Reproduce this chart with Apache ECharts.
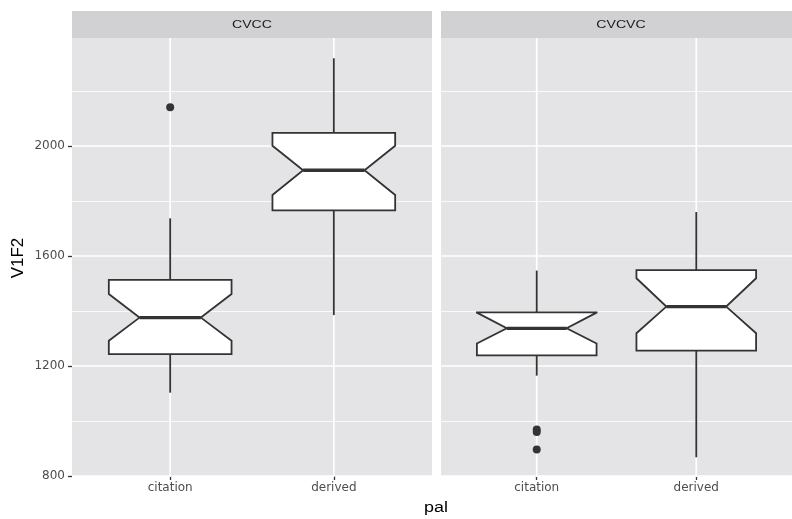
<!DOCTYPE html>
<html>
<head>
<meta charset="utf-8">
<script src="https://cdn.jsdelivr.net/npm/echarts@6/dist/echarts.min.js"></script>
<style>
  html, body { margin: 0; padding: 0; background: #fff; }
  #chart { width: 792px; height: 519px; }
</style>
</head>
<body>
<div id="chart"></div>
<script>
// Facets and categories
const facets = ['CVCC', 'CVCVC'];
const categories = ['citation', 'derived'];
const yTicks = [800, 1200, 1600, 2000];

// Box statistics per facet: [lowerWhisker, Q1, notchLow, median, notchHigh, Q3, upperWhisker]
const cvccCitation = [1103, 1243, 1292, 1376, 1462, 1513, 1737];
const cvccDerived  = [1385, 1766, 1822, 1912, 2001, 2048, 2319];
const cvcvcCitation = [1165, 1239, 1282, 1337, 1394, 1395, 1547];
const cvcvcDerived  = [868, 1256, 1319, 1416, 1519, 1549, 1760];

// Outliers: [category index (1-based), value]
const cvccOutliers = [[1, 2141]];
const cvcvcOutliers = [[1, 969], [1, 960], [1, 896]];

const boxStats = [
  [cvccCitation, cvccDerived],
  [cvcvcCitation, cvcvcDerived]
];
const outliers = [cvccOutliers, cvcvcOutliers];

const FONT = '"Liberation Sans", Arial, Helvetica, sans-serif';
const TICK_FONT = '"DejaVu Sans", "Liberation Sans", sans-serif';
const INK = '#333333';
const PANEL = '#E4E4E6';
const STRIP = '#D1D1D3';
const BOX_HALF = 0.375;
const NOTCH_HALF = 0.1875;

function renderNotchedBox(params, api) {
  const x = api.value(0);
  const lo = api.value(1), q1 = api.value(2), nLo = api.value(3), med = api.value(4),
        nHi = api.value(5), q3 = api.value(6), hi = api.value(7);
  const P = (xv, yv) => api.coord([xv, yv]);
  const xmin = x - BOX_HALF, xmax = x + BOX_HALF;
  const nxmin = x - NOTCH_HALF, nxmax = x + NOTCH_HALF;
  const top = P(x, 2400), bottom = P(x, 800);
  const pts = [
    P(xmin, q3), P(xmin, nHi), P(nxmin, med), P(xmin, nLo), P(xmin, q1),
    P(xmax, q1), P(xmax, nLo), P(nxmax, med), P(xmax, nHi), P(xmax, q3)
  ];
  return {
    type: 'group',
    children: [
      // vertical major grid line at the category
      { type: 'line', shape: { x1: top[0], y1: top[1], x2: bottom[0], y2: bottom[1] + 1 },
        style: { stroke: '#ffffff', lineWidth: 1.7 } },
      // whiskers
      { type: 'line', shape: { x1: P(x, q3)[0], y1: P(x, q3)[1], x2: P(x, hi)[0], y2: P(x, hi)[1] },
        style: { stroke: INK, lineWidth: 1.8 } },
      { type: 'line', shape: { x1: P(x, q1)[0], y1: P(x, q1)[1], x2: P(x, lo)[0], y2: P(x, lo)[1] },
        style: { stroke: INK, lineWidth: 1.8 } },
      // notched box
      { type: 'polygon', shape: { points: pts },
        style: { fill: '#ffffff', stroke: INK, lineWidth: 1.8, lineJoin: 'miter' } },
      // median
      { type: 'line', shape: { x1: P(nxmin, med)[0], y1: P(nxmin, med)[1], x2: P(nxmax, med)[0], y2: P(nxmax, med)[1] },
        style: { stroke: INK, lineWidth: 3.4 } }
    ]
  };
}

const grids = [
  { left: 72, top: 36, width: 360, height: 440 },
  { left: 441, top: 36, width: 360, height: 440 }
].map(g => Object.assign(g, { show: true, backgroundColor: PANEL, borderWidth: 0, containLabel: false }));

const xAxes = facets.map((f, i) => ({
  type: 'value', gridIndex: i, min: 0.4, max: 2.6,
  axisLine: { show: false },
  splitLine: { show: false },
  axisTick: { show: true, customValues: [1, 2], length: 4, lineStyle: { color: INK, width: 1.3 } },
  axisLabel: {
    customValues: [1, 2], margin: 6, color: '#4D4D4D', fontSize: 12, fontFamily: TICK_FONT,
    formatter: v => categories[Math.round(v) - 1] || ''
  }
}));

const yAxes = facets.map((f, i) => ({
  type: 'value', gridIndex: i, min: 800, max: 2400, interval: 400,
  axisLine: { show: false },
  axisTick: { show: i === 0, customValues: yTicks, length: 4, lineStyle: { color: INK, width: 1.3 } },
  axisLabel: { show: i === 0, customValues: yTicks, margin: 7, color: '#4D4D4D', fontSize: 12,
    fontFamily: TICK_FONT, formatter: v => String(v) },
  splitLine: { show: true, lineStyle: { color: '#ffffff', width: 1.7 } },
  minorTick: { show: false, splitNumber: 2 },
  minorSplitLine: { show: true, lineStyle: { color: '#ffffff', width: 0.8 } }
}));

const series = [];
facets.forEach((f, i) => {
  series.push({
    type: 'custom', xAxisIndex: i, yAxisIndex: i,
    renderItem: renderNotchedBox,
    encode: { x: 0, y: [1, 2, 3, 4, 5, 6, 7] },
    data: boxStats[i].map((s, k) => [k + 1].concat(s)),
    silent: true, clip: false
  });
  series.push({
    type: 'scatter', xAxisIndex: i, yAxisIndex: i,
    data: outliers[i], symbolSize: 8,
    itemStyle: { color: INK, opacity: 1 }, silent: true, z: 3
  });
});

// Facet strips and axis titles
const graphic = [];
facets.forEach((f, i) => {
  const g = grids[i];
  graphic.push({ type: 'rect', shape: { x: g.left, y: 11, width: g.width, height: 27 },
    style: { fill: STRIP }, z: 100 });
  graphic.push({ type: 'text', x: g.left + g.width / 2, y: 25, scaleX: 1.28,
    style: { text: f, fill: '#1A1A1A', font: '11px ' + FONT, align: 'center', verticalAlign: 'middle' }, z: 101 });
});
graphic.push({ type: 'text', x: 436, y: 508, scaleX: 1.28,
  style: { text: 'pal', fill: '#000', font: '14px ' + FONT, align: 'center', verticalAlign: 'middle' } });
graphic.push({ type: 'text', x: 18, y: 258, rotation: Math.PI / 2,
  style: { text: 'V1F2', fill: '#000', font: '17px ' + FONT, align: 'center', verticalAlign: 'middle' } });

const chart = echarts.init(document.getElementById('chart'), null, { renderer: 'canvas' });
chart.setOption({
  animation: false,
  backgroundColor: '#ffffff',
  grid: grids,
  xAxis: xAxes,
  yAxis: yAxes,
  series: series,
  graphic: graphic
});
</script>
</body>
</html>
